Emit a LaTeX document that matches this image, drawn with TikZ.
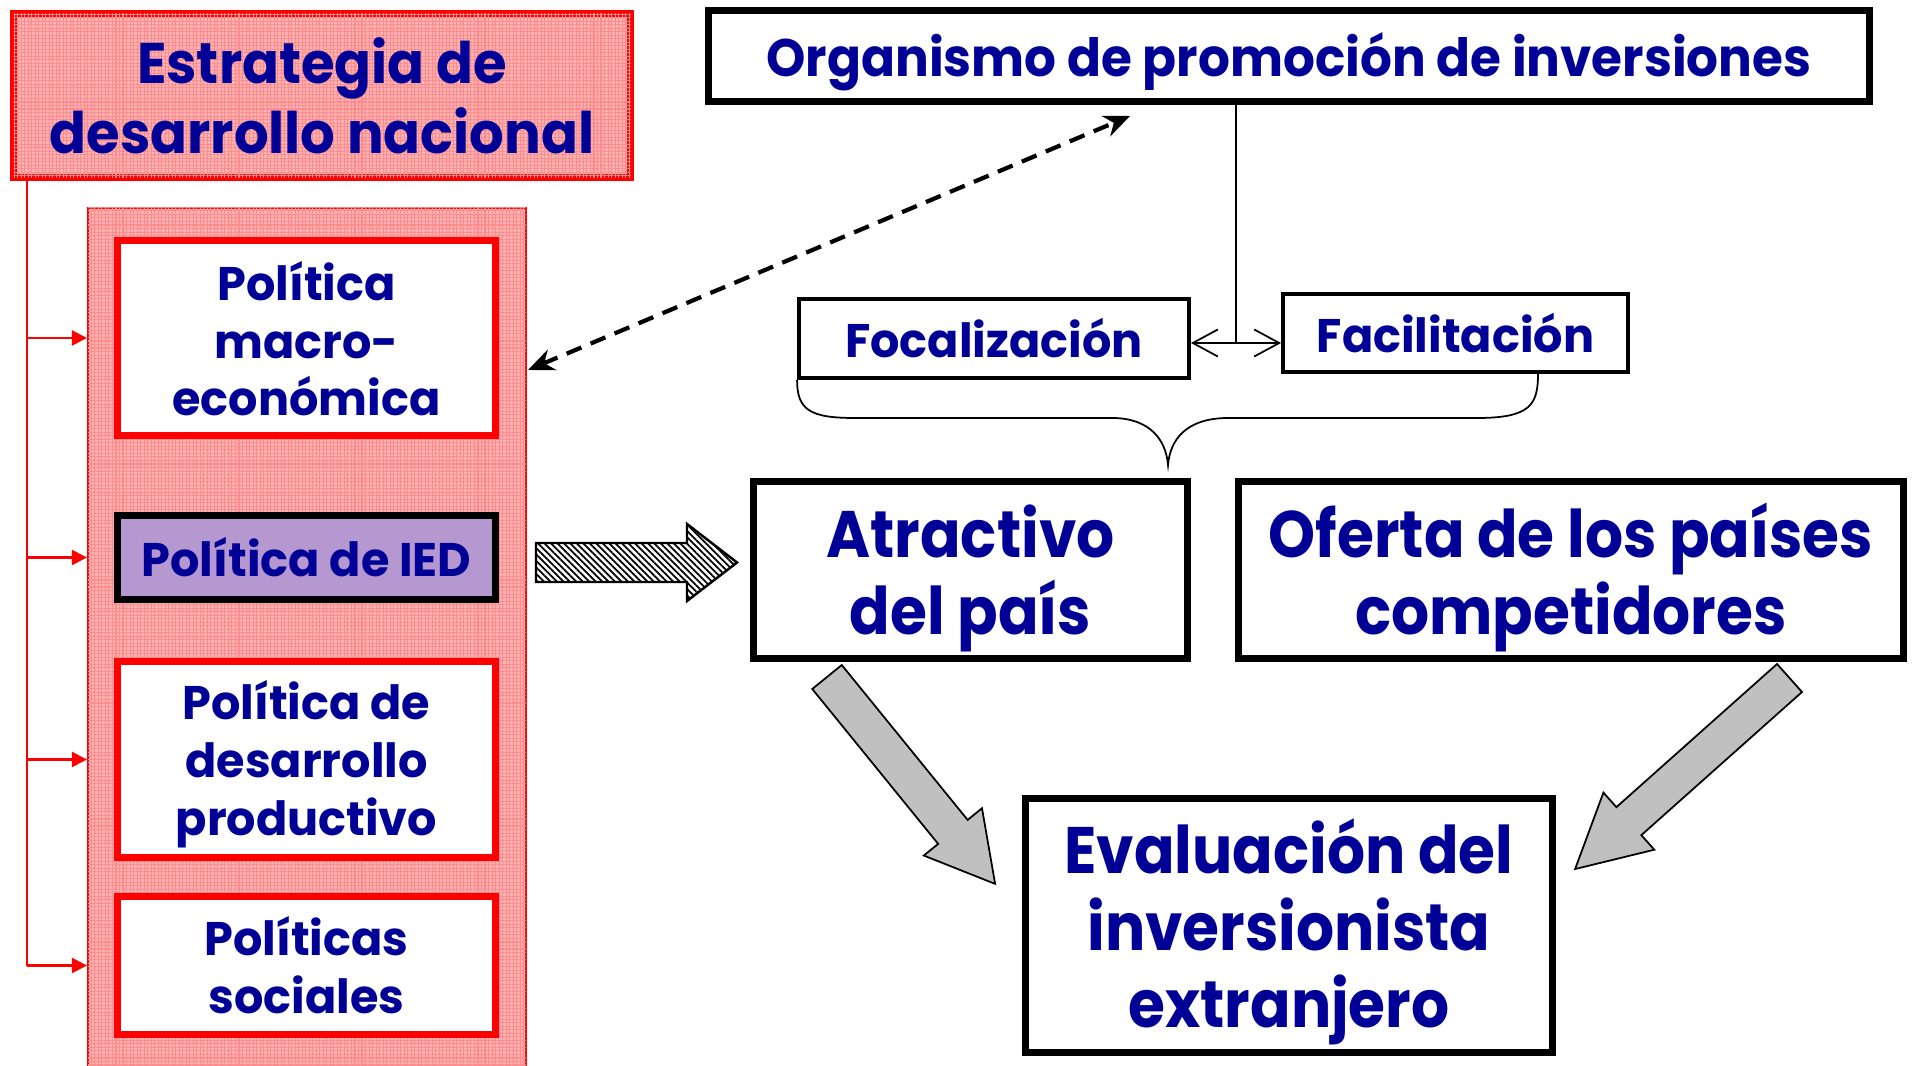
\documentclass[tikz,border=0pt]{standalone}
\usepackage{fontspec}
\setmainfont{Poppins}
\newfontfamily\gtitle{Poppins}[FakeStretch=0.95]
\newfontfamily\gmid{Poppins}[FakeStretch=0.98]
\newfontfamily\gbig{Poppins}[FakeStretch=0.91]
\usetikzlibrary{arrows.meta, positioning, patterns.meta}
\definecolor{navy}{RGB}{0,0,150}
\definecolor{pinkgrid}{RGB}{250,178,178}
\definecolor{iedfill}{RGB}{182,152,208}
\definecolor{arrowgray}{RGB}{192,192,192}

\newcommand{\ftitle}{\gtitle\fontsize{16.3}{19.9}\selectfont\bfseries}
\newcommand{\forg}{\gtitle\fontsize{15}{18}\selectfont\bfseries}
\newcommand{\fmid}{\gmid\fontsize{13.4}{16.5}\selectfont\bfseries}
\newcommand{\fbig}{\gbig\fontsize{18.7}{21.9}\selectfont\bfseries}

% block arrow: style, start, angle, length, shaft width, head length, head width
\newcommand{\fatarrow}[7]{%
  \begin{scope}[shift={#2}, rotate=#3]
    \draw[#1] (0,-#5/2) -- ({#4-#6},-#5/2) -- ({#4-#6},-#7/2) -- (#4,0)
      -- ({#4-#6},#7/2) -- ({#4-#6},#5/2) -- (0,#5/2) -- cycle;
  \end{scope}}

\begin{document}
\begin{tikzpicture}[
    every node/.style={text=navy, align=center, inner sep=0pt},
    pinkfill/.style={fill=pinkgrid, postaction={pattern={Hatch[angle=0,distance=1pt,line width=0.3pt]}, pattern color=red!45}},
    redbox/.style={draw=red, line width=2pt, fill=white, minimum width=3.78cm, font=\fmid},
    blackbox/.style={draw=black, line width=2pt, fill=white, font=\fbig},
    thinbox/.style={draw=black, line width=1.1pt, fill=white, font=\fmid},
    redarrow/.style={red, line width=0.6pt, -{Triangle[length=0.15cm,width=0.15cm]}},
    greyarrow/.style={fill=arrowgray, draw=black, line width=0.5pt},
    hatcharrow/.style={draw=black, line width=0.7pt, pattern={Lines[angle=-45,distance=1.3pt,line width=0.5pt]}},
  ]
  \useasboundingbox (0,0) rectangle (19.18,10.65);
  % Left column
  \node[draw=red, line width=0.6pt, pinkfill, minimum width=4.38cm, minimum height=8.72cm] (col) at (3.07,4.21) {};
  \node[draw=red, line width=2pt, pinkfill, minimum width=6.17cm, minimum height=1.64cm, font=\ftitle] (title) at (3.22,9.695) {Estrategia de\\desarrollo nacional};
  \node[redbox, minimum height=1.95cm, text height=1.58cm, text depth=0.02cm] (macro) at (3.065,7.27) {Política\\macro-\\económica};
  \node[draw=black, line width=2pt, fill=iedfill, minimum width=3.78cm, minimum height=0.84cm, font=\fmid] (ied) at (3.065,5.075) {Política de IED};
  \node[redbox, minimum height=1.96cm, text height=1.64cm, text depth=0.13cm] (prod) at (3.065,3.055) {Política de\\desarrollo\\productivo};
  \node[redbox, minimum height=1.38cm] (soc) at (3.065,0.995) {Políticas\\sociales};
  % Red links
  \coordinate (trunk) at (0.27,8.84);
  \draw[red, line width=0.6pt] (trunk) -- (trunk |- soc);
  \foreach \b in {macro,ied,prod,soc}
    \draw[redarrow] (trunk |- \b) -- (col.west |- \b);

  % Right side
  \node[blackbox, minimum width=11.61cm, minimum height=0.91cm, font=\forg, text height=0.55cm, text depth=0.13cm] (org) at (12.89,10.09) {Organismo de promoción de inversiones};
  \node[thinbox, minimum width=3.90cm, minimum height=0.79cm] (foc) at (9.94,7.265) {Focalización};
  \node[thinbox, minimum width=3.45cm, minimum height=0.78cm] (fac) at (14.555,7.32) {Facilitación};
  \node[blackbox, minimum width=4.34cm, minimum height=1.77cm, text height=1.41cm, text depth=0.13cm] (atr) at (9.705,4.95) {Atractivo\\del país};
  \node[blackbox, minimum width=6.65cm, minimum height=1.77cm, text height=1.41cm, text depth=0.13cm] (ofe) at (15.71,4.95) {Oferta de los países\\competidores};
  \node[blackbox, minimum width=5.27cm, minimum height=2.54cm, text height=2.17cm, text depth=0.13cm] (eva) at (12.89,1.395) {Evaluación del\\inversionista\\extranjero};

  % Dashed link
  \coordinate (dashlow) at (5.28,6.95);
  \coordinate (dashtop) at (11.30,9.49);
  \draw[line width=1.2pt, dash pattern=on 0.16cm off 0.1cm,
    {Stealth[length=0.26cm,width=0.22cm]}-{Stealth[length=0.26cm,width=0.22cm]}] (dashlow) -- (dashtop);

  % Focalizacion / Facilitacion
  \coordinate (mid) at (12.36,7.22);
  \draw[line width=0.5pt] (org.south -| mid) -- (mid);
  \draw[line width=0.5pt, {Straight Barb[length=0.25cm,width=0.27cm]}-{Straight Barb[length=0.25cm,width=0.27cm]}] (foc.east |- mid) -- (fac.west |- mid);
  \draw[line width=0.5pt] (foc.south west) .. controls (7.97,6.55) and (8.10,6.47) .. (8.55,6.47) -- (11.12,6.47)
    .. controls (11.50,6.47) and (11.66,6.25) .. (11.68,6.00)
    .. controls (11.70,6.25) and (11.86,6.47) .. (12.28,6.47) -- (14.77,6.47)
    .. controls (15.30,6.47) and (15.38,6.60) .. (15.38,6.91);

  % Block arrows
  \fatarrow{hatcharrow}{(5.36,5.025)}{0}{2.01}{0.39}{0.50}{0.77}
  \fatarrow{greyarrow}{(8.27,3.88)}{-50.9}{2.666}{0.38}{0.67}{0.75}
  \fatarrow{greyarrow}{(17.895,3.87)}{-138.3}{2.872}{0.375}{0.72}{0.765}
\end{tikzpicture}
\end{document}
